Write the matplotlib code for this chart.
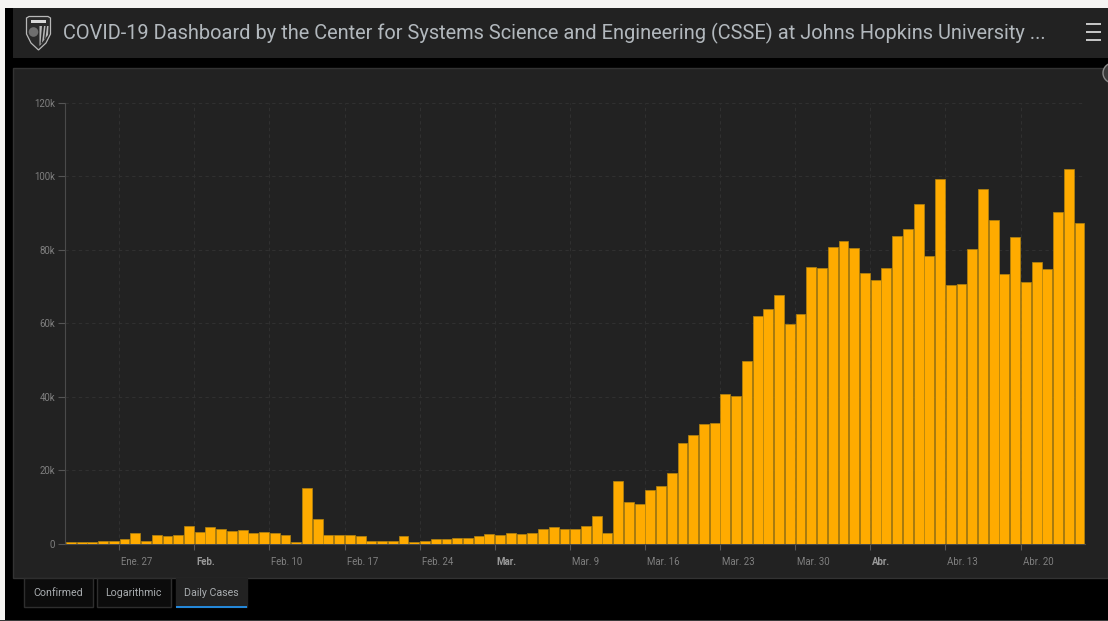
import matplotlib
matplotlib.use('Agg')
import matplotlib.pyplot as plt
from matplotlib.patches import Rectangle, Polygon, Circle
from matplotlib.transforms import ScaledTranslation

plt.rcParams['font.family'] = ['Roboto', 'DejaVu Sans']

W, H = 1108, 621

TITLE = 'COVID-19 Dashboard by the Center for Systems Science and Engineering (CSSE) at Johns Hopkins University ...'
TABS = ['Confirmed', 'Logarithmic', 'Daily Cases']

# daily cases in thousands, one bar per day
daily_cases = [
    0.5, 0.4, 0.5, 0.8, 0.8, 1.1, 2.8, 0.8, 2.3, 2.0,
    2.3, 4.9, 3.2, 4.4, 4.0, 3.5, 3.7, 2.8, 3.2, 2.8,
    2.3, 0.5, 15.2, 6.6, 2.3, 2.3, 2.3, 2.0, 0.8, 0.8,
    0.8, 2.0, 0.5, 0.8, 1.1, 1.1, 1.6, 1.6, 2.0, 2.5,
    2.3, 2.8, 2.5, 2.8, 4.0, 4.4, 4.0, 4.0, 4.9, 7.5,
    2.8, 17.0, 11.4, 10.8, 14.6, 15.8, 19.3, 27.3, 29.6, 32.6,
    32.9, 40.8, 40.3, 49.7, 62.1, 63.8, 67.7, 59.7, 62.4, 75.4,
    75.1, 80.9, 82.4, 80.4, 73.8, 71.8, 75.1, 83.9, 85.7, 92.4,
    78.3, 99.3, 70.3, 70.6, 80.1, 96.6, 88.0, 73.5, 83.4, 71.3,
    76.8, 74.7, 90.2, 101.9, 87.4,
]

x_tick_days = [5, 12, 19, 26, 33, 40, 47, 54, 61, 68, 75, 82, 89]
x_tick_labels = ['Ene. 27', 'Feb.', 'Feb. 10', 'Feb. 17', 'Feb. 24', 'Mar.', 'Mar. 9',
                 'Mar. 16', 'Mar. 23', 'Mar. 30', 'Abr.', 'Abr. 13', 'Abr. 20']
bold_labels = ['Feb.', 'Mar.', 'Abr.']
y_ticks = [0, 20, 40, 60, 80, 100, 120]
y_tick_labels = ['0', '20k', '40k', '60k', '80k', '100k', '120k']


def main():
    fig = plt.figure(figsize=(W / 100, H / 100), dpi=100, facecolor='#000000')

    # page chrome, in pixel coordinates
    bg = fig.add_axes([0, 0, 1, 1])
    bg.set_xlim(0, W)
    bg.set_ylim(H, 0)
    bg.axis('off')
    bg.add_patch(Rectangle((0, 0), W, 8, color='#f5f4f2', lw=0))
    bg.add_patch(Rectangle((0, 0), 5, H, color='#f5f4f2', lw=0))
    bg.add_patch(Rectangle((0, 620), W, 1, color='#3a3a3a', lw=0))
    bg.add_patch(Rectangle((13, 8), W - 13, 50, color='#222222', lw=0))
    bg.add_patch(Rectangle((13, 68), W - 13, 510, facecolor='#222222', edgecolor='#333333', lw=1))

    # shield logo
    bg.add_patch(Polygon([(26.5, 18), (29, 16.5), (48, 16.5), (50.5, 18), (50.5, 34), (46, 43), (38.5, 50),
                          (31, 43), (26.5, 34)],
                         closed=True, facecolor='#2a2a2a', edgecolor='#b8b8b8', lw=0.9))
    bg.add_patch(Rectangle((31, 19.5), 15, 3, color='#d8d8d8', lw=0))
    bg.add_patch(Circle((33.5, 32), 4.8, color='#6f6f6f', lw=0))
    bg.add_patch(Polygon([(39.5, 26), (48.5, 26), (48, 35), (39.5, 46)], closed=True, color='#b8b8b8', lw=0))
    bg.add_patch(Polygon([(42, 26), (44, 26), (42, 43), (40.5, 44)], closed=True, color='#2a2a2a', lw=0))
    bg.add_patch(Polygon([(45.5, 26), (47, 26), (45.5, 38), (44, 40)], closed=True, color='#2a2a2a', lw=0))

    title = bg.text(63, 33.5, TITLE, color='#b2b8bd', fontsize=16, va='center', ha='left')
    # fit the title to the width it has in the dashboard
    width = title.get_window_extent(fig.canvas.get_renderer()).width
    title.set_fontsize(16 * 985 / width)

    # menu icon and the cut off round button
    for y in [24, 32, 39.5]:
        bg.add_patch(Rectangle((1086, y - 1), 15, 2.2, color='#c4c4c4', lw=0))
    bg.add_patch(Circle((1113, 73), 10, facecolor='#3a3a3a', edgecolor='#8a8a8a', lw=1))

    # tabs
    tab_left = [24, 97, 176]
    tab_right = [92.5, 170.5, 247]
    for i in range(3):
        active = TABS[i] == 'Daily Cases'
        bg.add_patch(Rectangle((tab_left[i], 578), tab_right[i] - tab_left[i], 29,
                               facecolor='#222222' if active else '#0c0c0c',
                               edgecolor='#222222' if active else '#2e2e2e', lw=1))
        bg.text((tab_left[i] + tab_right[i]) / 2, 592.5, TABS[i], color='#a9adb0',
                fontsize=7.7, ha='center', va='center')
    bg.add_patch(Rectangle((176, 605.5), 71, 2, color='#2487d8', lw=0))

    # chart
    left, right, top, bottom = 65, 1085, 103, 543.5
    ax = fig.add_axes([left / W, 1 - bottom / H, (right - left) / W, (bottom - top) / H])
    ax.set_facecolor('none')
    step = 10.73
    x0 = -0.55
    ax.set_xlim(x0, x0 + (right - left) / step)
    ax.set_ylim(0, 120)

    days = range(len(daily_cases))
    ax.bar(days, daily_cases, width=0.92, color='#ffab00', edgecolor='#b5850f', linewidth=0.5, zorder=3)

    ax.set_axisbelow(True)
    ax.grid(True, color='#303030', linestyle=(0, (3, 3)), linewidth=0.8)

    ax.set_yticks(y_ticks)
    ax.set_yticklabels(y_tick_labels)
    ax.set_xticks([d - 0.5 for d in x_tick_days])
    ax.set_xticklabels(x_tick_labels, ha='left')
    ax.tick_params(axis='y', length=5, width=0.8, color='#555555', labelcolor='#7f7f7f',
                   labelsize=6.9, pad=2)
    ax.tick_params(axis='x', length=4, width=0.8, color='#555555', labelcolor='#7f7f7f',
                   labelsize=6.9, pad=5.5)

    shift = ScaledTranslation(2 / 100, 0, fig.dpi_scale_trans)
    for label in ax.get_xticklabels():
        label.set_transform(label.get_transform() + shift)
        if label.get_text() in bold_labels:
            label.set_fontweight('bold')
            label.set_color('#9a9a9a')

    for side in ['top', 'right']:
        ax.spines[side].set_visible(False)
    ax.spines['left'].set_color('#4a4a4a')
    ax.spines['bottom'].set_color('#4a4a4a')
    ax.spines['left'].set_linewidth(0.8)
    ax.spines['bottom'].set_linewidth(0.8)

    fig.savefig('out.png', dpi=100, facecolor=fig.get_facecolor())


if __name__ == '__main__':
    main()
